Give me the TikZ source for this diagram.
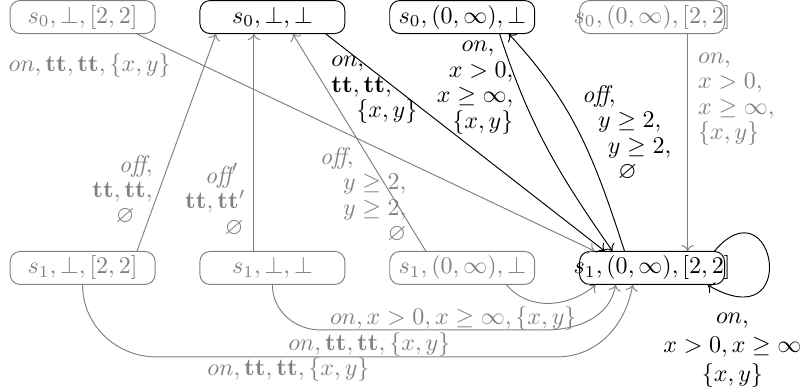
\documentclass[tikz,border=0pt]{standalone}
\usepackage{amssymb}
\usetikzlibrary{arrows.meta, positioning, calc}

% state text, centred and allowed to run over the box
\newcommand{\statelbl}[1]{\makebox[0pt]{$#1$}}

\begin{document}
\begin{tikzpicture}[
    % --- Global styles ---
    node distance=90.4pt and 18.3pt,
    >={To},
    % --- State boxes ---
    state/.style={
      draw, rounded corners=4.2pt,
      minimum width=60.4pt, minimum height=13.75pt,
      inner sep=1pt, line width=0.4pt,
    },
    faded/.style={state, draw=gray, text=gray},
    % --- Arrow styles ---
    flow/.style={->, line width=0.4pt},
    faded flow/.style={flow, draw=gray},
    % --- Label styles ---
    lbl/.style={inner sep=0pt, font=\fontsize{10}{10.6}\selectfont},
    faded lbl/.style={lbl, text=gray},
  ]

  \useasboundingbox (-34.4pt,7.1pt) rectangle ++(335pt,-163.3pt);

  %% ---- States (top row s0, bottom row s1) ----

  \node[faded] (s0a) {\statelbl{s_0, \bot, [2,2]}};
  \node[state, right=of s0a] (s0b) {\statelbl{s_0, \bot, \bot}};
  \node[state, right=of s0b] (s0c) {\statelbl{s_0, (0,\infty), \bot}};
  \node[faded, right=of s0c] (s0d) {\statelbl{s_0, (0,\infty), [2,2]}};

  \node[faded, below=of s0a] (s1a) {\statelbl{s_1, \bot, [2,2]}};
  \node[faded, below=of s0b] (s1b) {\statelbl{s_1, \bot, \bot}};
  \node[faded, below=of s0c] (s1c) {\statelbl{s_1, (0,\infty), \bot}};
  \node[state, below=of s0d] (s1d) {\statelbl{s_1, (0,\infty), [2,2]}};

  %% ---- Transitions ----

  \draw[faded flow] ([xshift=22.7pt]s0a.south) -- ([xshift=-24pt]s1d.north);
  \draw[flow] ([xshift=22.3pt]s0b.south) -- ([xshift=-19.8pt]s1d.north);
  \draw[flow] ([xshift=15.6pt]s0c.south) to[out=-72, in=125] ([xshift=-16.5pt]s1d.north);
  \draw[flow] ([xshift=-11.5pt]s1d.north) to[out=108, in=-47] ([xshift=19.4pt]s0c.south);
  \draw[faded flow] ([xshift=14.8pt]s0d.south) -- ([xshift=14.8pt]s1d.north);

  \draw[faded flow] ([xshift=22.7pt]s1a.north) -- ([xshift=-23.5pt]s0b.south);
  \draw[faded flow] ([xshift=-7.7pt]s1b.north) -- ([xshift=-7.7pt]s0b.south);
  \draw[faded flow] ([xshift=-15.2pt]s1c.north) -- ([xshift=8.5pt]s0b.south);

  \draw[faded flow] ([xshift=18.5pt]s1c.south) to[out=-50, in=-140] ([xshift=-23.5pt]s1d.south);
  \draw[faded flow] (s1b.south) to[out=-90, in=180] ++(20pt,-18.75pt) -- ++(93.75pt,0)
    to[out=0, in=-100] ([xshift=-15.2pt]s1d.south);
  \draw[faded flow] (s1a.south) to[out=-90, in=180] ++(30.8pt,-30pt) -- ++(166.7pt,0)
    to[out=0, in=-100] ([xshift=-8.1pt]s1d.south);

  % self loop
  \draw[flow] ([xshift=26pt]s1d.north) .. controls +(25pt,29.2pt) and +(39.6pt,-22.9pt)
    .. ([xshift=23.1pt]s1d.south);

  %% ---- Labels ----

  \node[faded lbl, anchor=west] at ($(s0a)+(-31pt,-20pt)$)
    {$on, \mathbf{tt}, \mathbf{tt}, \{x,y\}$};
  \node[faded lbl, anchor=east, align=right] at ($(s1a)+(29.4pt,32.5pt)$)
    {$\textit{off},$\\ $\mathbf{tt}, \mathbf{tt},$\hspace*{2.9pt}\\ $\varnothing$\hspace*{7.5pt}};
  \node[faded lbl, anchor=east, align=right] at ($(s1b)+(-11pt,28.5pt)$)
    {$\textit{off}'$\hspace*{2.9pt}\\ $\mathbf{tt}, \mathbf{tt}'$\\ $\varnothing$\hspace*{0.8pt}};
  \node[faded lbl, anchor=east, align=right] at ($(s1c)+(-23.1pt,30.4pt)$)
    {$\textit{off},$\hspace*{22pt}\\ $y \geq 2,$\hspace*{14.6pt}\\ $y \geq 2,$\hspace*{7.1pt}\\ $\varnothing$};
  \node[lbl, anchor=west, align=left] at ($(s0b)+(24.4pt,-30.4pt)$)
    {$on,$\\ $\mathbf{tt}, \mathbf{tt},$\\ \hspace*{10.4pt}$\{x,y\}$};
  \node[lbl, anchor=east, align=right] at ($(s0c)+(21.5pt,-29.5pt)$)
    {$on,$\hspace*{7.9pt}\\ $x > 0,$\hspace*{7.9pt}\\ $x \geq \infty,$\hspace*{3.75pt}\\ $\{x,y\}$};
  \node[lbl, anchor=west, align=left] at ($(s1d)+(-29.4pt,56.25pt)$)
    {$\textit{off},$\\ \hspace*{6.7pt}$y \geq 2,$\\ \hspace*{10.8pt}$y \geq 2,$\\ \hspace*{15pt}$\varnothing$};
  \node[faded lbl, anchor=west, align=left] at ($(s0d)+(19pt,-34.2pt)$)
    {$on,$\\ $x > 0,$\\ $x \geq \infty,$\\ $\{x,y\}$};
  \node[faded lbl] at ($(s1c)+(-3.75pt,-21.25pt)$)
    {$on, x > 0, x \geq \infty, \{x,y\}$};
  \node[faded lbl] at ($(s1b)+(40.4pt,-31.7pt)$)
    {$on, \mathbf{tt}, \mathbf{tt}, \{x,y\}$};
  \node[faded lbl] at ($(s1a)+(85.8pt,-42.5pt)$)
    {$on, \mathbf{tt}, \mathbf{tt}, \{x,y\}$};
  \node[lbl, align=center, font=\fontsize{10}{12}\selectfont] at ($(s1d)+(33.5pt,-34.3pt)$)
    {$on,$\\ $x > 0, x \geq \infty$\\ $\{x,y\}$};

\end{tikzpicture}
\end{document}
